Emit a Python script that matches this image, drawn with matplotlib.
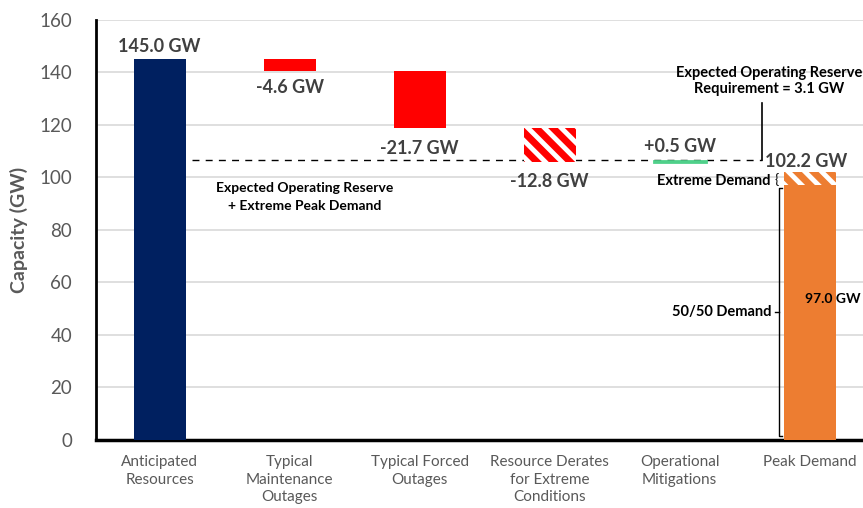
import matplotlib
matplotlib.use("Agg")
import matplotlib.pyplot as plt
import numpy as np

categories = ["Anticipated\nResources", "Typical\nMaintenance\nOutages", "Typical Forced\nOutages",
              "Resource Derates\nfor Extreme\nConditions", "Operational\nMitigations", "Peak Demand"]
changes = [145.0, -4.6, -21.7, -12.8, 0.5]
change_labels = ["145.0 GW", "-4.6 GW", "-21.7 GW", "-12.8 GW", "+0.5 GW"]
demand_5050 = 97.0
extreme_demand = 5.2
peak_label = "102.2 GW"
demand_label = "97.0 GW"
reserve_req = 3.1
reserve_line = 106.8
yticks = [0, 20, 40, 60, 80, 100, 120, 140, 160]

plt.rcParams['font.family'] = ['Lato', 'DejaVu Sans']
plt.rcParams['hatch.linewidth'] = 3.5

navy = "#002060"
red = "#FF0000"
green = "#4FD08A"
orange = "#ED7D31"
gray = "#595959"
dgray = "#404040"

fig = plt.figure(figsize=(8.63, 5.08), dpi=100)
ax = fig.add_axes([0.111, 0.134, 0.889, 0.827])

x = np.arange(len(categories))
w = 0.4

# waterfall
cum = np.cumsum(changes)
starts = np.concatenate([[0], cum[:-1]])
ax.bar(x[0], changes[0], bottom=0, width=w, color=navy, zorder=3)
ax.bar(x[1], changes[1], bottom=starts[1], width=w, color=red, zorder=3)
ax.bar(x[2], changes[2], bottom=starts[2], width=w, color=red, zorder=3)
ax.bar(x[3], changes[3], bottom=starts[3], width=w, color=red, edgecolor="white",
       linewidth=0, hatch="\\\\", zorder=3)
ax.bar(x[4], changes[4], bottom=starts[4], width=w, color=green, edgecolor=green,
       linewidth=2.0, zorder=3)
ax.bar(x[5], demand_5050, bottom=0, width=w, color=orange, zorder=3)
ax.bar(x[5], extreme_demand, bottom=demand_5050, width=w, color=orange, edgecolor="white",
       linewidth=0, hatch="\\\\", zorder=3)

lab_kw = dict(fontsize=13, fontweight="bold", color=dgray, zorder=5)
ax.text(x[0], cum[0] + 1.5, change_labels[0], ha="center", va="bottom", **lab_kw)
ax.text(x[1], cum[1] - 2.8, change_labels[1], ha="center", va="top", **lab_kw)
ax.text(x[2], cum[2] - 4.5, change_labels[2], ha="center", va="top", **lab_kw)
ax.text(x[3], cum[3] - 4.2, change_labels[3], ha="center", va="top", **lab_kw)
ax.text(x[4], cum[4] + 2.0, change_labels[4], ha="center", va="bottom", **lab_kw)

# reserve dashed line
ax.plot([0.25, 4.63], [reserve_line, reserve_line], color="black", lw=1.0,
        linestyle=(0, (5, 4.5)), zorder=2)
ax.plot([4.63, 4.63], [reserve_line, 128.4], color="black", lw=1.2, zorder=2)
ax.text(4.69, 130.8, "Expected Operating Reserve\nRequirement = %.1f GW" % reserve_req,
        ha="center", va="bottom", fontsize=10.5, fontweight="bold", color="black",
        linespacing=1.25, clip_on=False)
ax.text(1.115, 92.5, "Expected Operating Reserve\n+ Extreme Peak Demand", ha="center",
        va="center", fontsize=10, fontweight="bold", color="black", linespacing=1.6)
ax.text(4.66, reserve_line - 0.6, peak_label, ha="left", va="center", **lab_kw)

# brackets
ax.text(4.7, 98.8, "Extreme Demand", ha="right", va="center", fontsize=10.5,
        fontweight="bold", color="black")
ax.text(4.745, 99.0, "{", ha="center", va="center", fontsize=10, color="black")
bx = 4.765
ax.plot([bx + 0.025, bx, bx, bx + 0.025], [96, 96, 1.5, 1.5], color="black", lw=1.0,
        zorder=4, clip_on=False)
ax.plot([bx - 0.03, bx], [48.8, 48.8], color="black", lw=1.0, zorder=4)
ax.text(bx - 0.06, 48.8, "50/50 Demand", ha="right", va="center", fontsize=10.5,
        fontweight="bold", color="black")
ax.text(5.18, 53.7, demand_label, ha="center", va="center", fontsize=10,
        fontweight="bold", color="black", zorder=5, clip_on=False)

ax.set_xlim(-0.49, 5.41)
ax.set_ylim(0, 160)
ax.set_yticks(yticks)
ax.set_xticks(x)
ax.set_xticklabels(categories, fontsize=11, color=gray, linespacing=1.3)
ax.tick_params(axis="y", labelsize=13.5, labelcolor=gray, length=0, pad=17)
ax.tick_params(axis="x", length=0, pad=11)
ax.yaxis.grid(True, color="#D9D9D9", lw=1.2, zorder=0)
ax.set_axisbelow(True)
ax.set_ylabel("Capacity (GW)", fontsize=14, fontweight="bold", color=gray, labelpad=8)
for s in ["top", "right"]:
    ax.spines[s].set_visible(False)
ax.spines["left"].set_linewidth(2.0)
ax.spines["bottom"].set_linewidth(2.5)

fig.savefig("out.png", dpi=100)
